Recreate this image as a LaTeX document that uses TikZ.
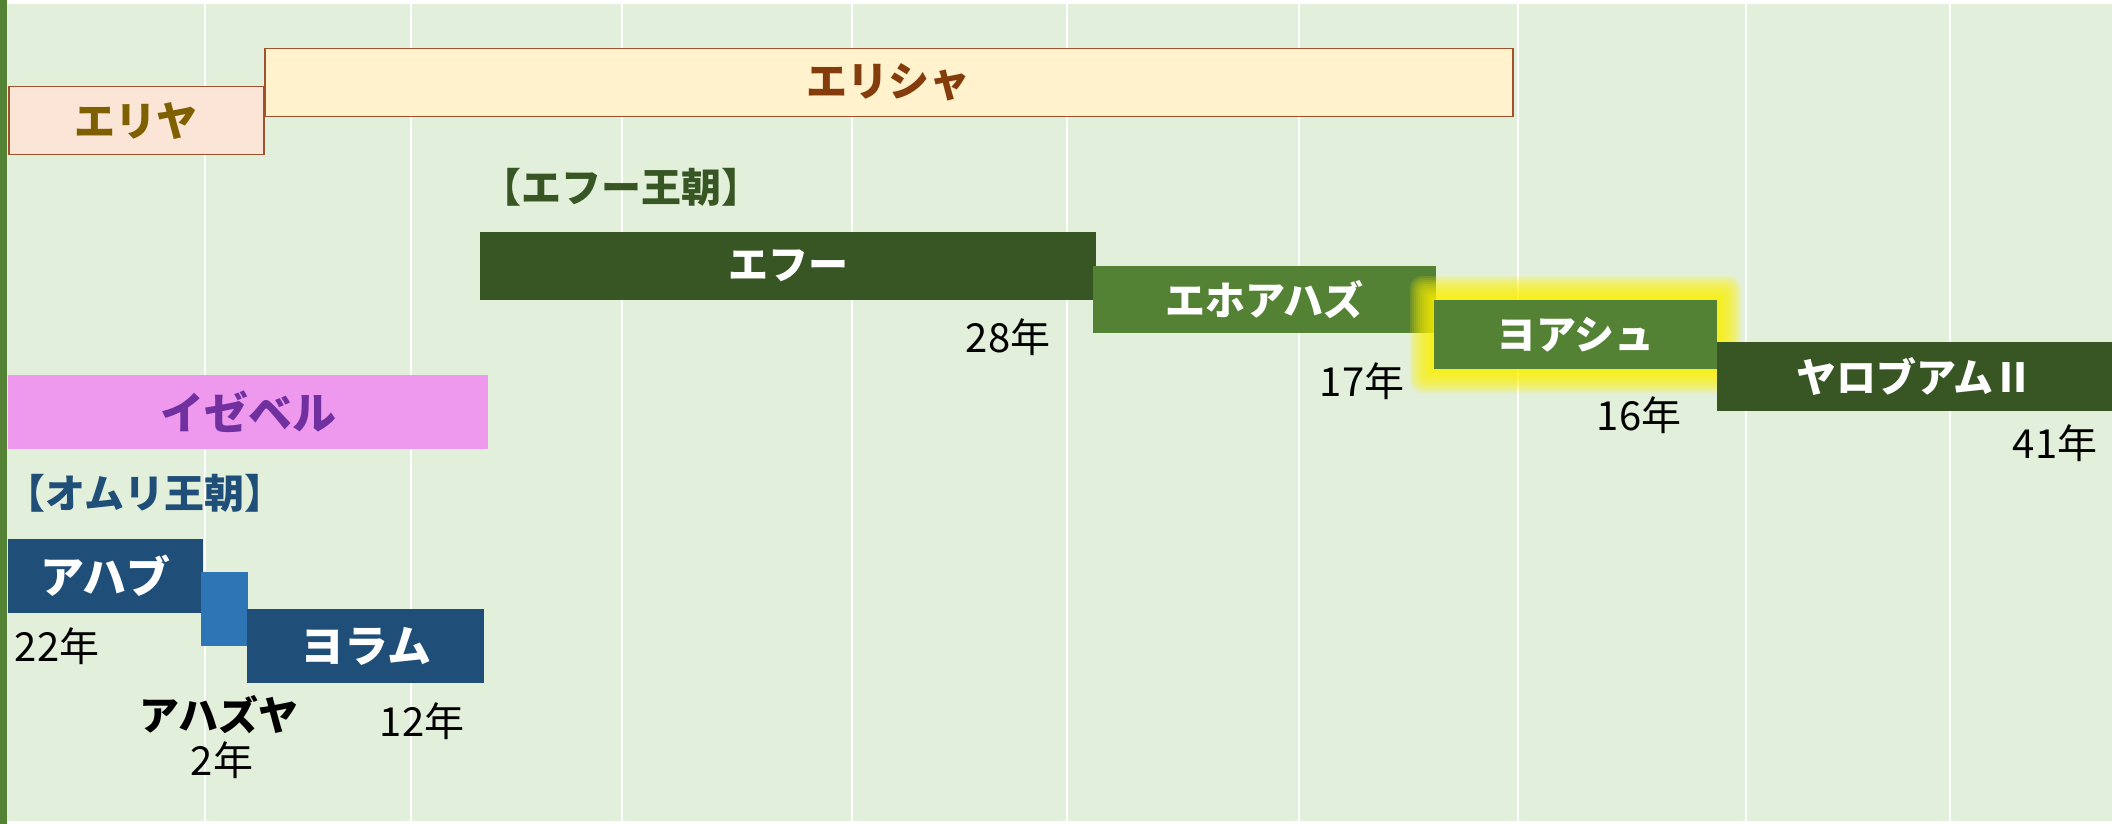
\documentclass[tikz,border=0pt]{standalone}
\usepackage{fontspec}
\setmainfont{Noto Sans CJK JP}
\definecolor{bg}{HTML}{E2EFDA}
\definecolor{leftbar}{HTML}{548235}
\definecolor{elijahfill}{HTML}{FBE5D6}
\definecolor{elishafill}{HTML}{FFF2CC}
\definecolor{brownline}{HTML}{A0522D}
\definecolor{elijahtext}{HTML}{7F6000}
\definecolor{elishatext}{HTML}{843C0C}
\definecolor{jezfill}{HTML}{EE99EE}
\definecolor{jeztext}{HTML}{7030A0}
\definecolor{darkgreen}{HTML}{375623}
\definecolor{midgreen}{HTML}{548235}
\definecolor{darkblue}{HTML}{1F4E79}
\definecolor{midblue}{HTML}{2E75B6}
\begin{document}
\begin{tikzpicture}[x=1pt,y=-1pt,
  reignbar/.style={draw=none, inner sep=0pt, anchor=north west, text=white,
    font=\bfseries\fontsize{40}{40}\selectfont},
  prophet/.style={draw=brownline, line width=1.5pt, inner sep=0pt, anchor=north west,
    font=\bfseries\fontsize{41}{41}\selectfont},
  years/.style={inner sep=0pt, text=black, font=\fontsize{40}{40}\selectfont},
  dynasty/.style={inner sep=0pt, font=\bfseries\fontsize{40}{40}\selectfont}]
\useasboundingbox (0,0) rectangle (2112,824);
\fill[white] (0,0) rectangle (2112,824);
\fill[bg] (0,4) rectangle (2112,821);
\foreach \gx in {205,411,622,852,1067,1299,1518,1746,1950}
  \draw[white, line width=2pt] (\gx,4) -- (\gx,821);
\fill[leftbar] (0,0) rectangle (7,824);

% prophets
\node[prophet, fill=elijahfill, text=elijahtext, minimum width=255, minimum height=68] (elijah) at (8,86) {エリヤ};
\node[prophet, fill=elishafill, text=elishatext, minimum width=1248, minimum height=68] (elisha) at (264,48) {エリシャ};

% Jehu dynasty
\node[dynasty, text=darkgreen] (jehudyn) at (621,187) {【エフー王朝】};
\node[reignbar, fill=darkgreen, minimum width=616, minimum height=68] (jehu) at (480,232) {エフー};
\node[years] (y28) at (1008,337) {28年};
\node[reignbar, fill=midgreen, minimum width=343, minimum height=67] (jehoahaz) at (1093,266) {エホアハズ};
\node[years] (y17) at (1362,381) {17年};
% glow around Joash
\foreach \g in {1,...,12}
  \fill[yellow, opacity=0.14, rounded corners=\g pt] (1434-2*\g,300-2*\g) rectangle (1717+2*\g,369+2*\g);
\node[reignbar, fill=midgreen, minimum width=283, minimum height=69] (joash) at (1434,300) {ヨアシュ};
\node[years] (y16) at (1639,415) {16年};
\node[reignbar, fill=darkgreen, minimum width=395, minimum height=69] (jeroboam) at (1717,342) {ヤロブアムⅡ};
\node[years] (y41) at (2055,443) {41年};

% Jezebel
\node[reignbar, fill=jezfill, text=jeztext, minimum width=480, minimum height=74,
  font=\bfseries\fontsize{44}{44}\selectfont] (jezebel) at (8,375) {イゼベル};

% Omri dynasty
\node[dynasty, text=darkblue] (omridyn) at (145,493) {【オムリ王朝】};
\node[reignbar, fill=darkblue, minimum width=195, minimum height=74,
  font=\bfseries\fontsize{44}{44}\selectfont] (ahab) at (8,539) {アハブ};
\node[years] (y22) at (57,646) {22年};
\node[reignbar, fill=midblue, minimum width=47, minimum height=74] (ahaziah) at (201,572) {};
\node[reignbar, fill=darkblue, minimum width=237, minimum height=74,
  font=\bfseries\fontsize{44}{44}\selectfont] (joram) at (247,609) {ヨラム};
\node[years, font=\bfseries\fontsize{40}{40}\selectfont] (ahazname) at (219,715) {アハズヤ};
\node[years] (y2) at (222,760) {2年};
\node[years] (y12) at (422,721) {12年};
\end{tikzpicture}
\end{document}
